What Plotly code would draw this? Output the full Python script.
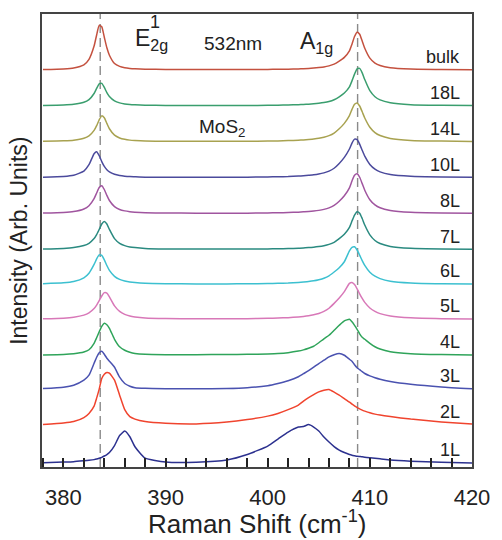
import plotly.graph_objects as go

# Raman shift sample positions (cm^-1)
raman_shift = [378, 380, 381, 382, 382.5, 383, 383.25, 383.5, 383.75, 384, 384.25, 384.5,
               385, 385.5, 386, 386.5, 387, 388, 390, 393, 396, 398, 400, 401, 402, 403,
               403.5, 404, 404.5, 405, 405.5, 406, 406.5, 407, 407.5, 408, 408.25, 408.5,
               408.75, 409, 409.25, 409.5, 410, 410.5, 411, 412, 414, 417, 420]

layers = ["1L", "2L", "3L", "4L", "5L", "6L", "7L", "8L", "10L", "14L", "18L", "bulk"]
offsets = [4, 42, 78, 112, 148, 183, 218, 254, 290, 326, 362, 398]

int_1L = [0.3, 0.9, 1.3, 2.2, 2.7, 3.4, 4.0, 4.8, 5.7, 7.0, 8.5, 10.5, 17.5, 27.5, 32.0, 26.3,
          16.3, 4.8, 1.0, 0.8, 3.0, 8.5, 17.0, 24.0, 31.0, 36.0, 36.5, 38.5, 36.0, 32.0, 26.0,
          21.0, 16.5, 13.0, 10.5, 8.5, 7.8, 7.3, 6.8, 6.5, 6.2, 5.8, 5.2, 4.7, 4.2, 3.0, 1.8,
          0.8, 0.0]
int_2L = [0.5, 2.0, 3.5, 7.5, 11.7, 19.0, 27.0, 36.0, 46.7, 51.0, 52.7, 52.0, 45.0, 30.0,
          15.5, 8.5, 6.0, 3.5, 1.8, 1.2, 3.0, 5.5, 9.0, 11.7, 15.5, 20.0, 24.0, 27.5, 30.5,
          33.3, 35.0, 35.7, 33.0, 30.0, 26.5, 23.0, 21.0, 19.3, 17.5, 16.3, 15.0, 14.0, 12.3,
          11.0, 10.0, 8.5, 6.0, 3.2, 1.0]
int_3L = [0.6, 2.0, 4.0, 9.0, 14.0, 26.0, 32.0, 36.5, 38.0, 35.0, 31.0, 28.0, 22.0, 12.0,
          5.7, 3.0, 1.5, 0.8, 0.5, 0.4, 0.6, 1.4, 3.5, 5.7, 8.5, 12.5, 15.5, 18.5, 22.0, 25.7,
          29.0, 32.3, 34.5, 35.7, 34.0, 30.0, 28.0, 24.5, 21.5, 19.5, 17.5, 15.7, 13.3, 11.5,
          10.0, 7.8, 5.0, 2.3, 0.5]
int_4L = [0.3, 0.8, 1.5, 3.2, 5.5, 12.0, 17.5, 23.5, 29.0, 32.0, 30.5, 27.0, 16.0, 8.5, 5.0,
          3.0, 1.8, 0.9, 0.6, 0.6, 0.7, 0.9, 1.3, 1.7, 2.6, 4.2, 5.4, 7.0, 9.0, 12.5, 16.5,
          20.0, 25.0, 30.0, 34.5, 36.0, 33.5, 30.0, 26.0, 21.5, 18.0, 16.0, 12.0, 8.5, 6.2,
          3.5, 1.6, 0.7, 0.3]
int_5L = [0.6, 1.2, 2.1, 4.2, 6.5, 10.8, 14.3, 18.7, 23.4, 26.7, 26.3, 22.5, 13.5, 7.9, 4.9,
          3.3, 2.4, 1.4, 0.8, 0.6, 0.6, 0.7, 1.0, 1.3, 1.7, 2.4, 2.9, 3.6, 4.6, 5.9, 7.9,
          11.1, 16.0, 21.3, 27.7, 36.0, 36.9, 34.8, 30.6, 25.6, 20.9, 17.0, 11.4, 7.9, 5.7,
          3.3, 1.5, 0.7, 0.4]
int_6L = [0.7, 1.6, 2.9, 6.6, 11.2, 20.0, 25.6, 29.6, 29.1, 24.6, 18.9, 14.1, 8.1, 5.0, 3.4,
          2.4, 1.8, 1.1, 0.7, 0.5, 0.5, 0.6, 0.9, 1.1, 1.4, 2.0, 2.4, 2.9, 3.6, 4.7, 6.2, 8.6,
          12.4, 16.7, 22.7, 33.6, 37.2, 37.7, 34.5, 29.3, 23.8, 19.0, 12.2, 8.2, 5.8, 3.2,
          1.4, 0.6, 0.3]
int_7L = [0.5, 1.1, 1.9, 3.9, 6.2, 10.9, 14.9, 20.1, 25.5, 28.0, 25.5, 20.1, 10.9, 6.2, 3.9,
          2.6, 1.9, 1.1, 0.6, 0.4, 0.4, 0.4, 0.6, 0.7, 0.9, 1.3, 1.5, 1.9, 2.3, 2.9, 3.8, 5.1,
          7.2, 10.8, 15.2, 22.2, 28.5, 34.5, 37.9, 36.4, 31.0, 24.5, 14.7, 9.0, 6.0, 3.1,
          1.2, 0.5, 0.3]
int_8L = [0.5, 1.1, 2.0, 4.6, 7.9, 15.0, 20.6, 26.1, 27.9, 24.1, 18.2, 13.1, 7.0, 4.1, 2.7,
          1.9, 1.4, 0.8, 0.5, 0.4, 0.4, 0.4, 0.6, 0.8, 1.0, 1.4, 1.7, 2.0, 2.5, 3.2, 4.2, 5.7,
          8.2, 12.4, 17.8, 25.8, 32.7, 38.3, 39.9, 36.4, 30.0, 23.4, 13.9, 8.7, 5.8, 3.1,
          1.2, 0.5, 0.3]
int_10L = [0.5, 1.2, 2.4, 6.6, 13.0, 24.0, 25.9, 22.0, 16.1, 11.3, 8.0, 5.8, 3.4, 2.2, 1.5,
           1.1, 0.9, 0.5, 0.4, 0.3, 0.4, 0.5, 0.7, 0.9, 1.1, 1.6, 1.9, 2.3, 2.8, 3.6, 4.8,
           6.5, 9.4, 14.2, 20.3, 28.7, 34.7, 38.6, 38.1, 33.6, 27.4, 21.5, 13.2, 8.5, 5.8,
           3.1, 1.3, 0.6, 0.3]
int_14L = [0.4, 0.9, 1.5, 3.4, 5.8, 11.3, 16.1, 22.0, 25.9, 24.0, 18.4, 13.0, 6.6, 3.8, 2.4,
           1.6, 1.2, 0.7, 0.5, 0.4, 0.4, 0.5, 0.7, 0.8, 1.1, 1.5, 1.8, 2.2, 2.7, 3.4, 4.5,
           6.1, 8.7, 13.0, 18.4, 26.2, 32.4, 37.5, 38.9, 35.8, 30.0, 23.8, 14.5, 9.2, 6.2,
           3.3, 1.3, 0.6, 0.3]
int_18L = [0.4, 0.8, 1.5, 3.5, 6.2, 12.3, 17.4, 22.0, 22.5, 18.4, 13.2, 9.3, 4.9, 2.9, 1.9,
           1.3, 1.0, 0.6, 0.4, 0.3, 0.3, 0.3, 0.5, 0.6, 0.8, 1.1, 1.3, 1.6, 2.0, 2.5, 3.2,
           4.3, 6.1, 9.0, 12.8, 19.0, 25.0, 31.7, 37.0, 37.5, 33.0, 26.3, 15.2, 9.1, 5.9,
           3.0, 1.1, 0.5, 0.3]
int_bulk = [0.4, 1.0, 1.9, 5.1, 10.6, 23.9, 35.0, 44.6, 43.2, 32.7, 22.1, 14.7, 6.4, 3.5,
            2.2, 1.5, 1.1, 0.7, 0.4, 0.3, 0.3, 0.4, 0.5, 0.6, 0.7, 1.0, 1.2, 1.4, 1.8, 2.3,
            2.9, 4.0, 5.7, 8.8, 12.5, 19.0, 25.8, 33.4, 37.8, 35.7, 28.9, 21.7, 11.8, 6.8,
            4.4, 2.2, 0.9, 0.4, 0.2]

spectra = [int_1L, int_2L, int_3L, int_4L, int_5L, int_6L, int_7L, int_8L,
           int_10L, int_14L, int_18L, int_bulk]
colors = ["#2c318f", "#f0442e", "#4a52b0", "#2fa45a", "#d878b8", "#3cc0d0",
          "#2a8a80", "#a0559f", "#4b4a9c", "#a8a250", "#3a9e6e", "#c4513f"]

ref_lines = [383.6, 408.8]  # E2g^1 and A1g positions of bulk

fig = go.Figure()

for xr in ref_lines:
    fig.add_shape(type="line", x0=xr, x1=xr, y0=0, y1=1, xref="x", yref="paper",
                  line=dict(color="#8a8a8a", width=1.4, dash="9px,5px"), layer="below")

for name, off, ys, col in zip(layers, offsets, spectra, colors):
    fig.add_trace(go.Scatter(
        x=raman_shift, y=[off + v for v in ys], mode="lines", name=name,
        line=dict(color=col, width=1.5, shape="spline", smoothing=0.5),
        showlegend=False, hoverinfo="skip"))
    fig.add_annotation(x=419.0, y=off + 13, text=name, showarrow=False,
                       xanchor="right", yanchor="middle",
                       font=dict(size=18, color="#222"))

fig.add_annotation(x=386.8, y=428, text="E<sub>2g</sub>", xanchor="left", yanchor="middle",
                   showarrow=False, font=dict(size=23, color="#222"))
fig.add_annotation(x=388.3, y=446, text="1", xanchor="left", yanchor="middle",
                   showarrow=False, font=dict(size=18, color="#222"))
fig.add_annotation(x=396.6, y=424, text="532nm", xanchor="center", yanchor="middle",
                   showarrow=False, font=dict(size=19, color="#222"))
fig.add_annotation(x=403.0, y=425, text="A<sub>1g</sub>", xanchor="left", yanchor="middle",
                   showarrow=False, font=dict(size=23, color="#222"))
fig.add_annotation(x=393.1, y=340, text="MoS<sub>2</sub>", xanchor="left", yanchor="middle",
                   showarrow=False, font=dict(size=19, color="#222"))

fig.add_annotation(xref="paper", yref="paper", x=0.5, y=-0.122, text="Raman Shift (cm<sup>-1</sup>)",
                   showarrow=False, xanchor="center", yanchor="middle",
                   font=dict(size=26, color="#222"))
fig.add_annotation(xref="paper", yref="paper", x=-0.055, y=0.5, text="Intensity (Arb. Units)",
                   showarrow=False, textangle=-90, xanchor="center", yanchor="middle",
                   font=dict(size=23, color="#222"))

fig.update_xaxes(range=[377.9, 420], tickvals=[380, 390, 400, 410, 420],
                 ticks="inside", ticklen=9, tickwidth=1.6, tickcolor="#222",
                 minor=dict(dtick=2, tick0=380, ticks="inside", ticklen=9, tickwidth=1.6, tickcolor="#222"),
                 showline=True, linecolor="#444", linewidth=2, mirror=True,
                 showgrid=False, zeroline=False, ticklabelstandoff=10,
                 tickfont=dict(size=22, color="#222"))
fig.update_yaxes(range=[0, 454], showticklabels=False, ticks="",
                 showline=True, linecolor="#444", linewidth=2, mirror=True,
                 showgrid=False, zeroline=False)

fig.update_layout(width=502, height=540, margin=dict(l=42, r=22, t=13, b=73),
                  plot_bgcolor="white", paper_bgcolor="white",
                  font=dict(family="Liberation Sans, Arial, sans-serif", color="#222"))

fig.write_html("out.html")
